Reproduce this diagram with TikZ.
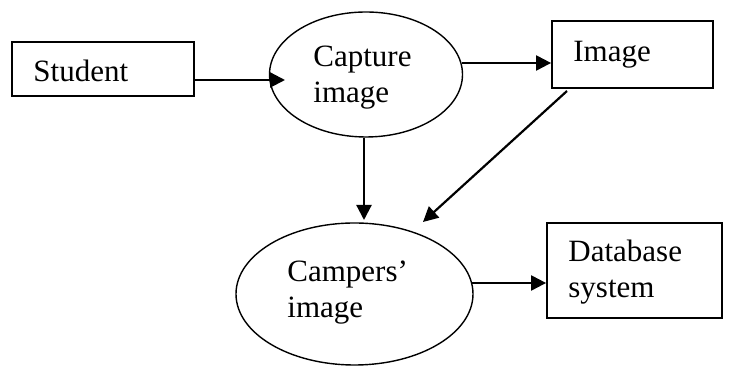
\documentclass[tikz,border=0pt]{standalone}
\usepackage{fontspec}
\setmainfont{Liberation Serif}
\usetikzlibrary{shapes.geometric,arrows.meta}
\tikzset{
  box/.style={draw, line width=0.9pt, rectangle, inner sep=0pt},
  oval/.style={draw, line width=0.7pt, ellipse, inner sep=0pt},
  lbl/.style={anchor=base west, inner sep=0pt, font=\fontsize{15.5}{18}\selectfont},
  arr/.style={line width=1.1pt, -{Triangle[length=7.5pt,width=7.5pt]}}
}
\begin{document}
\begin{tikzpicture}[x=0.5pt,y=-0.5pt]
\useasboundingbox (0,0) rectangle (730,367);
% shapes
\node[box, minimum width=91pt, minimum height=27pt] (student) at (103,69) {};
\node[oval, minimum width=96.5pt, minimum height=62.5pt] (capture) at (366,74.5) {};
\node[box, minimum width=80.5pt, minimum height=33.5pt] (image) at (632.5,54.5) {};
\node[oval, minimum width=118.5pt, minimum height=71pt] (campers) at (354.5,294) {};
\node[box, minimum width=87.5pt, minimum height=47.5pt] (database) at (634.5,270.5) {};
% texts
\node[lbl] (tstudent) at (33,82) {Student};
\node[lbl] (tcap1) at (313,67) {Capture};
\node[lbl] (tcap2) at (313,103) {image};
\node[lbl] (timage) at (573,62) {Image};
\node[lbl] (tcamp1) at (287,282) {Campers’};
\node[lbl] (tcamp2) at (287,318) {image};
\node[lbl] (tdb1) at (568,262) {Database};
\node[lbl] (tdb2) at (568,298) {system};
% connector coordinates
\coordinate (a1) at (285,80);
\coordinate (a2) at (552,63);
\coordinate (a3) at (364,220);
\coordinate (d1) at (567,91);
\coordinate (d2) at (423,222);
\coordinate (a5) at (547,283);
% connectors
\draw[arr] (student.east |- a1) -- (a1);
\draw[arr] (462,63) -- (image.west |- a2);
\draw[arr] (a3 |- capture.south) -- (a3);
\draw[arr] (d1) -- (d2);
\draw[arr] (472,283) -- (database.west |- a5);
\end{tikzpicture}
\end{document}
